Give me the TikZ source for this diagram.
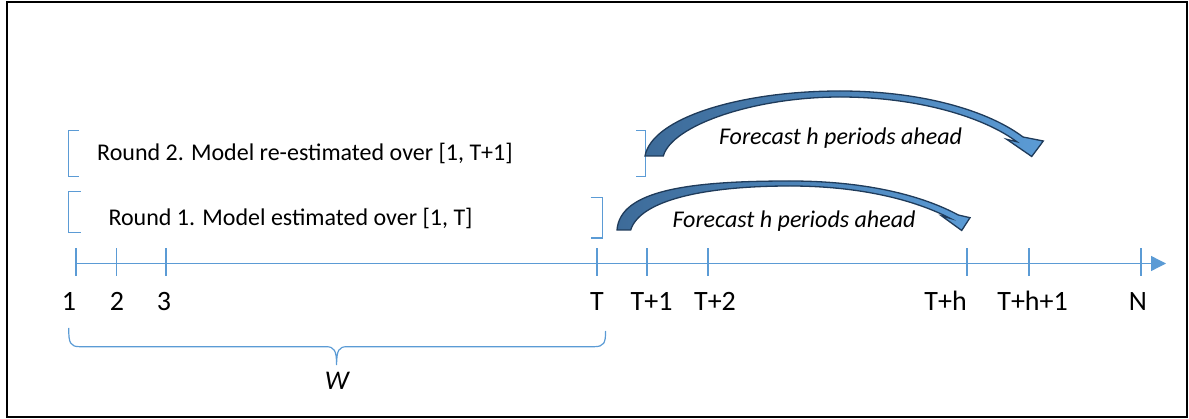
\documentclass[tikz,border=0pt]{standalone}
\usepackage{fontspec}
\setmainfont{Carlito}
\usetikzlibrary{arrows.meta}
\definecolor{axisblue}{HTML}{5B9BD5}
\definecolor{arrowdark}{HTML}{3D6B99}
\definecolor{arrowlight}{HTML}{5B9BD5}
\definecolor{arrowedge}{HTML}{1F3B5A}
\tikzset{
  axisline/.style={draw=axisblue, line width=1.3pt},
  bracketline/.style={draw=axisblue, line width=1.2pt},
  lbl/.style={font=\fontsize{28}{32}\selectfont, anchor=base, inner sep=0pt},
  roundtxt/.style={font=\fontsize{24}{28}\selectfont, anchor=base west, inner sep=0pt},
  fctxt/.style={font=\fontsize{24}{28}\selectfont\itshape, anchor=base, inner sep=0pt},
  blockarrow/.style={draw=arrowedge, line width=1.3pt, left color=arrowdark, right color=arrowlight, line join=miter},
}
\begin{document}
\begin{tikzpicture}[x=1pt,y=-1pt]
\useasboundingbox (0,0) rectangle (1189,419);
% frame
\draw[line width=2.5pt] (7,2) rectangle (1187,417);

% timeline
\coordinate (tstart) at (76,263.5);
\coordinate (tend) at (1166,263.5);
\draw[axisline, -{Triangle[length=15pt,width=15pt]}] (tstart) -- (tend);
\foreach \x/\n in {76/k1,116.5/k2,166/k3,597/kT,647/kT1,708/kT2,967/kTh,1029/kTh1,1141/kN}{
  \coordinate (\n top) at (\x,248.5);
  \coordinate (\n bot) at (\x,276);
  \draw[axisline] (\n top) -- (\n bot);
}

% tick labels
\node[lbl] (l1) at (69,311) {1};
\node[lbl] (l2) at (117,311) {2};
\node[lbl] (l3) at (164,311) {3};
\node[lbl] (lT) at (597,311) {T};
\node[lbl] (lT1) at (651.6,311) {T+1};
\node[lbl] (lT2) at (715,311) {T+2};
\node[lbl] (lTh) at (945.6,311) {T+h};
\node[lbl] (lTh1) at (1032.6,311) {T+h+1};
\node[lbl] (lN) at (1138,311) {N};

% brace W
\coordinate (bl) at (68.7,328);
\coordinate (bm) at (336.6,365);
\coordinate (br) at (605.6,331);
\draw[bracketline] (bl) .. controls (68.7,343) and (70,346.7) .. (80,346.7) -- (326,346.7)
   .. controls (334,346.7) and (bm|-350,350) .. (bm)
   .. controls (336.6,350) and (339,346.7) .. (347,346.7) -- (594,346.7)
   .. controls (604,346.7) and (605.6,343) .. (br);
\node[font=\fontsize{27}{30}\selectfont\itshape, anchor=base, inner sep=0pt] (W) at (337,390) {W};

% round brackets
\draw[bracketline] (79,130.7) -- (68.3,130.7) -- (68.3,176.7) -- (79,176.7);
\draw[bracketline] (636,130.7) -- (645.7,130.7) -- (645.7,176.7) -- (636,176.7);
\draw[bracketline] (80.7,191.7) -- (68.3,191.7) -- (68.3,232.7) -- (80.7,232.7);
\draw[bracketline] (590.7,197.7) -- (602.7,197.7) -- (602.7,238) -- (590.7,238);

\node[roundtxt] (r2) at (97,161) {Round 2. Model re-estimated over [1, T+1]};
\node[roundtxt] (r1) at (108.3,226) {Round 1. Model estimated over [1, T]};

% curved block arrows
\path[blockarrow] (645,156) .. controls (652,118) and (740,91) .. (840,91)
   .. controls (925,91) and (990,112) .. (1023,137)
   -- (1043.3,141) -- (1031.7,156.5) -- (1006.7,139.3) -- (1016.7,141.7)
   .. controls (985,118) and (920,97) .. (840,97)
   .. controls (755,97) and (672,125) .. (663.3,156) -- cycle;
\path[blockarrow] (617,230) .. controls (620,190) and (690,181) .. (790,181)
   .. controls (870,181) and (925,197) .. (958.3,215)
   -- (970,217.7) -- (961.7,230.5) -- (941.7,216) -- (950,218.3)
   .. controls (915,200) and (860,186) .. (790,186)
   .. controls (705,186) and (640,200) .. (630.7,230) -- cycle;

\node[fctxt] (f2) at (840.5,145) {Forecast h periods ahead};
\node[fctxt] (f1) at (794,227.7) {Forecast h periods ahead};
\end{tikzpicture}
\end{document}
